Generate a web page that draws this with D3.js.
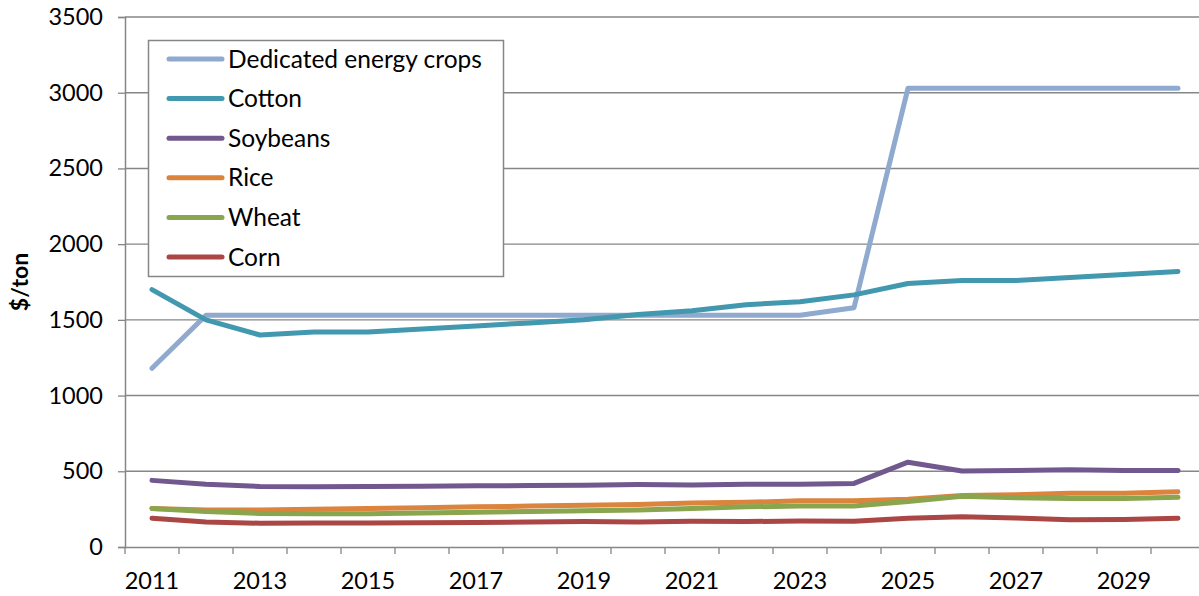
<!DOCTYPE html>
<html>
<head>
<meta charset="utf-8">
<script src="https://cdn.jsdelivr.net/npm/d3@7"></script>
<style>
  html, body { margin: 0; padding: 0; background: #fff; }
  svg { display: block; }
  text { font-family: Lato, "Open Sans", sans-serif; fill: #000; }
</style>
</head>
<body>
<svg id="chart" width="1199" height="596"></svg>
<script>
const years = [2011,2012,2013,2014,2015,2016,2017,2018,2019,2020,2021,2022,2023,2024,2025,2026,2027,2028,2029,2030];
const yTicks = [0,500,1000,1500,2000,2500,3000,3500];
const seriesNames = ["Dedicated energy crops","Cotton","Soybeans","Rice","Wheat","Corn"];
const seriesColors = ["#8FA9CF","#4198AF","#71588F","#DB843D","#89A54E","#AA4643"];

const energy   = [1180,1530,1530,1530,1530,1530,1530,1530,1530,1530,1530,1530,1530,1580,3030,3030,3030,3030,3030,3030];
const cotton   = [1700,1500,1400,1420,1420,1440,1460,1480,1500,1535,1560,1600,1620,1665,1740,1760,1760,1780,1800,1820];
const soybeans = [440,415,400,398,400,402,404,406,408,412,410,415,415,420,560,502,506,510,505,505];
const rice     = [255,245,245,250,255,260,265,270,275,280,290,295,305,305,315,340,345,355,355,365];
const wheat    = [255,235,222,220,220,225,230,235,240,245,255,265,270,270,300,335,325,320,320,328];
const corn     = [190,165,157,158,158,160,162,165,168,165,170,168,172,170,190,200,192,180,182,190];
const seriesValues = [energy, cotton, soybeans, rice, wheat, corn];

const svg = d3.select("#chart");
const L = 125, R = 1205, T = 17, B = 547;
const axisColor = "#868686";

const x = d3.scaleBand().domain(years).range([L, R]).padding(0);
const y = d3.scaleLinear().domain([0, 3500]).range([B, T]);

// gridlines
svg.append("g").selectAll("line").data(yTicks.filter(d => d > 0)).join("line")
  .attr("x1", L).attr("x2", R)
  .attr("y1", d => y(d)).attr("y2", d => y(d))
  .attr("stroke", axisColor).attr("stroke-width", 1.4);

// y axis
const yAxis = svg.append("g").attr("transform", `translate(${L},0)`)
  .call(d3.axisLeft(y).tickValues(yTicks).tickSize(7).tickPadding(15).tickFormat(d3.format("d")));
yAxis.select(".domain").attr("stroke", axisColor).attr("stroke-width", 1.5);
yAxis.selectAll(".tick line").attr("stroke", axisColor).attr("stroke-width", 1.3);
yAxis.selectAll("text").style("font-size", "23.5px").style("font-family", "Lato, sans-serif").attr("fill", "#000");

// x axis
const xAxis = svg.append("g").attr("transform", `translate(0,${B})`)
  .call(d3.axisBottom(x).tickSize(0).tickPadding(25).tickFormat((d, i) => i % 2 === 0 ? d : ""));
xAxis.select(".domain").attr("stroke", axisColor).attr("stroke-width", 1.5);
xAxis.selectAll(".tick text").style("font-size", "23.5px").style("font-family", "Lato, sans-serif").attr("fill", "#000");
// category boundary tick marks
xAxis.append("g").selectAll("line").data(years).join("line")
  .attr("x1", d => x(d)).attr("x2", d => x(d))
  .attr("y1", 0).attr("y2", 7)
  .attr("stroke", axisColor).attr("stroke-width", 1.3);

// y axis title
svg.append("text")
  .attr("transform", `translate(28,${(T + B) / 2}) rotate(-90)`)
  .attr("text-anchor", "middle")
  .style("font-size", "23px").style("font-weight", "bold")
  .text("$/ton");

// lines
const line = d3.line()
  .x((d, i) => x(years[i]) + x.bandwidth() / 2)
  .y(d => y(d));
svg.append("g").selectAll("path").data(seriesValues).join("path")
  .attr("d", d => line(d))
  .attr("fill", "none")
  .attr("stroke", (d, i) => seriesColors[i])
  .attr("stroke-width", 5)
  .attr("stroke-linecap", "round")
  .attr("stroke-linejoin", "round");

// legend
const lg = svg.append("g");
lg.append("rect").attr("x", 148.5).attr("y", 40.5).attr("width", 355).attr("height", 236)
  .attr("fill", "#fff").attr("stroke", axisColor).attr("stroke-width", 1.5);
const rows = lg.selectAll("g.row").data(seriesNames).join("g").attr("class", "row")
  .attr("transform", (d, i) => `translate(0,${59 + i * 39.6})`);
rows.append("line").attr("x1", 169).attr("x2", 222).attr("y1", 0).attr("y2", 0)
  .attr("stroke", (d, i) => seriesColors[i]).attr("stroke-width", 5).attr("stroke-linecap", "round");
rows.append("text").attr("x", 228).attr("y", 0).attr("dy", "0.35em")
  .style("font-size", "24.5px").text(d => d);
</script>
</body>
</html>
